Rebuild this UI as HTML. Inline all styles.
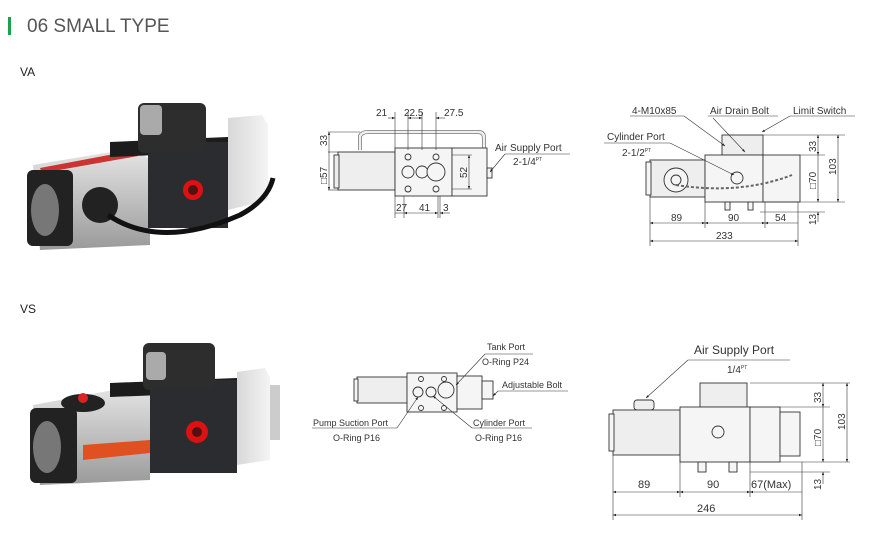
<!DOCTYPE html>
<html><head><meta charset="utf-8"><style>
html,body{margin:0;padding:0;background:#fff;}
svg{display:block;}
text{font-family:"Liberation Sans",sans-serif;fill:#333;}
</style></head><body>
<svg width="870" height="544" viewBox="0 0 870 544" xmlns="http://www.w3.org/2000/svg">
<defs>
<marker id="a" viewBox="0 0 10 10" refX="10" refY="5" markerWidth="5" markerHeight="5" orient="auto-start-reverse"><path d="M0,1 L10,5 L0,9 z" fill="#222"/></marker>
<linearGradient id="g1" x1="0" y1="0" x2="0" y2="1"><stop offset="0" stop-color="#e6e6e6"/><stop offset="1" stop-color="#9a9a9a"/></linearGradient>
<linearGradient id="g2" x1="0" y1="0" x2="1" y2="0"><stop offset="0" stop-color="#d8d8d8"/><stop offset="1" stop-color="#f4f4f4"/></linearGradient>
</defs>
<rect x="8" y="17" width="3" height="18" fill="#1aa34a"/>
<text x="27" y="32" font-size="19" style="fill:#555">06 SMALL TYPE</text>
<text x="20" y="76" font-size="12" style="fill:#222">VA</text>
<text x="20" y="313" font-size="12" style="fill:#222">VS</text>

<!-- Photo VA -->
<g>
<polygon points="33,165 135,148 150,160 150,245 40,250" fill="url(#g1)"/>
<polygon points="40,168 135,150 138,156 42,173" fill="#c33"/>
<polygon points="228,118 262,115 268,125 268,200 228,210" fill="url(#g2)"/>
<polygon points="110,142 228,137 228,152 110,157" fill="#1c1c1c"/>
<rect x="148" y="142" width="80" height="86" fill="#2a2c30"/>
<rect x="138" y="103" width="68" height="50" rx="6" fill="#2d2d2d"/>
<rect x="140" y="105" width="22" height="30" rx="4" fill="#aaa"/>
<circle cx="193" cy="190" r="10" fill="#d11"/><circle cx="193" cy="190" r="5" fill="#511"/>
<rect x="27" y="170" width="46" height="76" rx="6" fill="#222"/>
<ellipse cx="45" cy="210" rx="14" ry="26" fill="#777"/>
<circle cx="100" cy="205" r="18" fill="#222"/>
<path d="M108,215 Q160,250 240,215 Q268,200 273,178" stroke="#111" stroke-width="5" fill="none"/>
</g>

<!-- Photo VS -->
<g>
<polygon points="33,405 140,385 150,395 150,480 40,485" fill="url(#g1)"/>
<polygon points="83,445 150,440 150,453 83,460" fill="#e05020"/>
<polygon points="237,372 265,368 270,378 270,460 237,465" fill="url(#g2)"/>
<rect x="270" y="385" width="10" height="55" fill="#ccc"/>
<polygon points="110,383 237,378 237,392 110,397" fill="#1c1c1c"/>
<rect x="150" y="380" width="87" height="93" fill="#2a2c30"/>
<rect x="143" y="343" width="72" height="47" rx="6" fill="#2d2d2d"/>
<rect x="146" y="352" width="20" height="28" rx="4" fill="#aaa"/>
<circle cx="197" cy="432" r="11" fill="#d11"/><circle cx="197" cy="432" r="5" fill="#511"/>
<rect x="30" y="408" width="47" height="75" rx="6" fill="#222"/>
<ellipse cx="47" cy="447" rx="14" ry="26" fill="#777"/>
<ellipse cx="83" cy="403" rx="22" ry="9" fill="#222"/>
<circle cx="83" cy="398" r="5" fill="#d22"/>
</g>

<g stroke="#333" stroke-width="0.9" fill="#f5f5f5">
<!-- Drawing VA middle -->
<path d="M360,150 L360,136 Q362,132 368,132 L478,132 Q484,132 484,138 L484,150" fill="none" stroke-width="4" stroke="#777"/>
<path d="M360,150 L360,136 Q362,132 368,132 L478,132 Q484,132 484,138 L484,150" fill="none" stroke-width="2.5" stroke="#f0f0f0"/>
<rect x="338" y="152" width="57" height="38" fill="#eeeeee"/>
<rect x="334" y="155" width="5" height="33" fill="#eee"/>
<rect x="395" y="148" width="57" height="48"/>
<rect x="452" y="148" width="35" height="48"/>
<rect x="487" y="168" width="5" height="10"/>
<circle cx="408" cy="172" r="6"/><circle cx="422" cy="172" r="6"/><circle cx="436" cy="172" r="9"/>
<circle cx="408" cy="157" r="3"/><circle cx="436" cy="157" r="3"/><circle cx="408" cy="189" r="3"/><circle cx="436" cy="189" r="3"/>
<g fill="none" stroke-width="0.6">
<line x1="395" y1="112" x2="395" y2="148"/><line x1="408" y1="112" x2="408" y2="150"/><line x1="422" y1="112" x2="422" y2="150"/><line x1="436" y1="112" x2="436" y2="150"/>
<line x1="388" y1="118" x2="395" y2="118" marker-end="url(#a)"/><line x1="408" y1="118" x2="422" y2="118" marker-start="url(#a)" marker-end="url(#a)"/><line x1="436" y1="118" x2="445" y2="118" marker-start="url(#a)"/>
<line x1="395" y1="196" x2="395" y2="218"/><line x1="404" y1="196" x2="404" y2="218"/><line x1="438" y1="196" x2="438" y2="218"/><line x1="440" y1="196" x2="440" y2="218"/>
<line x1="395" y1="213" x2="404" y2="213"/><line x1="404" y1="213" x2="438" y2="213" marker-start="url(#a)" marker-end="url(#a)"/><line x1="440" y1="213" x2="450" y2="213" marker-start="url(#a)"/>
<line x1="328" y1="132" x2="360" y2="132"/><line x1="328" y1="152" x2="338" y2="152"/><line x1="328" y1="190" x2="338" y2="190"/>
<line x1="329" y1="132" x2="329" y2="190" marker-start="url(#a)" marker-end="url(#a)"/>
<line x1="452" y1="155" x2="472" y2="155"/><line x1="452" y1="189" x2="472" y2="189"/>
<line x1="469" y1="155" x2="469" y2="189" marker-start="url(#a)" marker-end="url(#a)"/>
<line x1="570" y1="154" x2="505" y2="154"/><line x1="505" y1="154" x2="490" y2="172" marker-end="url(#a)"/>
</g>
</g>
<g font-size="10">
<text x="376" y="116">21</text><text x="404" y="116">22.5</text><text x="444" y="116">27.5</text>
<text x="396" y="211">27</text><text x="419" y="211">41</text><text x="443" y="211">3</text>
<text transform="translate(327,146) rotate(-90)">33</text>
<text transform="translate(327,184) rotate(-90)">□57</text>
<text transform="translate(467,178) rotate(-90)">52</text>
<text x="495" y="151">Air Supply Port</text>
<text x="513" y="165">2-1/4<tspan font-size="5" dy="-4">PT</tspan></text>
</g>

<!-- Drawing VA right -->
<g stroke="#333" stroke-width="0.9" fill="#f5f5f5">
<rect x="722" y="135" width="41" height="20" fill="#eeeeee"/>
<rect x="650" y="160" width="55" height="37" fill="#eeeeee"/>
<rect x="646" y="162" width="5" height="33"/>
<rect x="705" y="155" width="58" height="47"/>
<rect x="763" y="155" width="37" height="47"/>
<rect x="725" y="202" width="5" height="8"/><rect x="748" y="202" width="5" height="8"/>
<circle cx="676" cy="180" r="12"/><circle cx="676" cy="180" r="5"/>
<circle cx="737" cy="178" r="6"/>
<path d="M676,185 Q740,195 792,175" fill="none" stroke="#666" stroke-width="2" stroke-dasharray="3,2"/>
<g fill="none" stroke-width="0.6">
<line x1="763" y1="135" x2="845" y2="135"/><line x1="800" y1="155" x2="825" y2="155"/><line x1="763" y1="202" x2="845" y2="202"/><line x1="760" y1="212" x2="825" y2="212"/>
<line x1="818" y1="135" x2="818" y2="155" marker-start="url(#a)" marker-end="url(#a)"/>
<line x1="818" y1="155" x2="818" y2="202" marker-end="url(#a)"/>
<line x1="818" y1="212" x2="818" y2="222" marker-start="url(#a)"/>
<line x1="838" y1="135" x2="838" y2="202" marker-start="url(#a)" marker-end="url(#a)"/>
<line x1="650" y1="197" x2="650" y2="246"/><line x1="705" y1="202" x2="705" y2="228"/><line x1="765" y1="202" x2="765" y2="228"/><line x1="798" y1="202" x2="798" y2="246"/>
<line x1="650" y1="223" x2="705" y2="223" marker-start="url(#a)" marker-end="url(#a)"/>
<line x1="705" y1="223" x2="765" y2="223" marker-start="url(#a)" marker-end="url(#a)"/>
<line x1="765" y1="223" x2="798" y2="223" marker-start="url(#a)"/>
<line x1="650" y1="241" x2="798" y2="241" marker-start="url(#a)" marker-end="url(#a)"/>
<line x1="630" y1="116" x2="684" y2="116"/><line x1="684" y1="116" x2="725" y2="146" marker-end="url(#a)"/>
<line x1="708" y1="116" x2="778" y2="116"/><line x1="713" y1="118" x2="745" y2="152" marker-end="url(#a)"/>
<line x1="790" y1="116" x2="855" y2="116"/><line x1="790" y1="116" x2="762" y2="132" marker-end="url(#a)"/>
<line x1="604" y1="143" x2="670" y2="143"/><line x1="670" y1="143" x2="734" y2="175" marker-end="url(#a)"/>
</g>
</g>
<g font-size="10">
<text x="632" y="114">4-M10x85</text><text x="710" y="114">Air Drain Bolt</text><text x="793" y="114">Limit Switch</text>
<text x="607" y="140">Cylinder Port</text><text x="622" y="156">2-1/2<tspan font-size="5" dy="-4">PT</tspan></text>
<text transform="translate(816,152) rotate(-90)">33</text>
<text transform="translate(816,189) rotate(-90)">□70</text>
<text transform="translate(836,175) rotate(-90)">103</text>
<text transform="translate(816,225) rotate(-90)">13</text>
<text x="671" y="221">89</text><text x="728" y="221">90</text><text x="775" y="221">54</text><text x="716" y="239">233</text>
</g>

<!-- Drawing VS middle -->
<g stroke="#333" stroke-width="0.9" fill="#f5f5f5">
<rect x="357" y="377" width="50" height="26" fill="#eeeeee"/>
<rect x="354" y="379" width="4" height="22"/>
<rect x="407" y="373" width="50" height="39"/>
<rect x="457" y="376" width="25" height="33"/>
<rect x="482" y="381" width="11" height="18"/>
<circle cx="418" cy="392" r="5"/><circle cx="431" cy="392" r="5"/><circle cx="446" cy="390" r="8"/>
<circle cx="421" cy="379" r="2.5"/><circle cx="444" cy="379" r="2.5"/><circle cx="421" cy="408" r="2.5"/><circle cx="444" cy="408" r="2.5"/>
<g fill="none" stroke-width="0.6">
<line x1="485" y1="354" x2="533" y2="354"/><line x1="485" y1="354" x2="456" y2="385" marker-end="url(#a)"/>
<line x1="498" y1="391" x2="568" y2="391"/><line x1="498" y1="391" x2="493" y2="396" marker-end="url(#a)"/>
<line x1="312" y1="428" x2="397" y2="428"/><line x1="397" y1="428" x2="418" y2="397" marker-end="url(#a)"/>
<line x1="472" y1="428" x2="532" y2="428"/><line x1="472" y1="428" x2="433" y2="396" marker-end="url(#a)"/>
</g>
</g>
<g font-size="9">
<text x="487" y="350">Tank Port</text><text x="482" y="365">O-Ring P24</text>
<text x="502" y="388">Adjustable Bolt</text>
<text x="313" y="426">Pump Suction Port</text><text x="333" y="441">O-Ring P16</text>
<text x="473" y="426">Cylinder Port</text><text x="475" y="441">O-Ring P16</text>
</g>

<!-- Drawing VS right -->
<g stroke="#333" stroke-width="0.9" fill="#f5f5f5">
<rect x="700" y="383" width="47" height="24" fill="#eeeeee"/>
<rect x="634" y="400" width="20" height="10" rx="3" fill="#eeeeee"/>
<rect x="613" y="410" width="67" height="45" fill="#eeeeee"/>
<rect x="609" y="414" width="5" height="37"/>
<rect x="680" y="407" width="70" height="55"/>
<rect x="750" y="407" width="30" height="55"/>
<rect x="780" y="412" width="20" height="44"/>
<rect x="698" y="462" width="8" height="10"/><rect x="729" y="462" width="8" height="10"/>
<circle cx="718" cy="432" r="6"/>
<g fill="none" stroke-width="0.6">
<line x1="750" y1="383" x2="850" y2="383"/><line x1="780" y1="407" x2="830" y2="407"/><line x1="780" y1="462" x2="850" y2="462"/><line x1="750" y1="472" x2="830" y2="472"/>
<line x1="823" y1="383" x2="823" y2="407" marker-start="url(#a)" marker-end="url(#a)"/>
<line x1="823" y1="407" x2="823" y2="462" marker-end="url(#a)"/>
<line x1="823" y1="472" x2="823" y2="484" marker-start="url(#a)"/>
<line x1="847" y1="383" x2="847" y2="462" marker-start="url(#a)" marker-end="url(#a)"/>
<line x1="613" y1="455" x2="613" y2="520"/><line x1="680" y1="462" x2="680" y2="497"/><line x1="750" y1="462" x2="750" y2="497"/><line x1="802" y1="462" x2="802" y2="520"/>
<line x1="613" y1="492" x2="680" y2="492" marker-start="url(#a)" marker-end="url(#a)"/>
<line x1="680" y1="492" x2="750" y2="492" marker-start="url(#a)" marker-end="url(#a)"/>
<line x1="750" y1="492" x2="802" y2="492" marker-start="url(#a)"/>
<line x1="613" y1="515" x2="802" y2="515" marker-start="url(#a)" marker-end="url(#a)"/>
<line x1="688" y1="360" x2="790" y2="360"/><line x1="688" y1="360" x2="646" y2="398" marker-end="url(#a)"/>
</g>
</g>
<g font-size="10">
<text x="694" y="354" font-size="12">Air Supply Port</text>
<text x="727" y="373">1/4<tspan font-size="5" dy="-4">PT</tspan></text>
<text transform="translate(821,403) rotate(-90)">33</text>
<text transform="translate(821,446) rotate(-90)">□70</text>
<text transform="translate(845,430) rotate(-90)">103</text>
<text transform="translate(821,490) rotate(-90)">13</text>
<text x="638" y="488" font-size="11">89</text><text x="707" y="488" font-size="11">90</text><text x="751" y="488" font-size="11">67(Max)</text>
<text x="697" y="512" font-size="11">246</text>
</g>
</svg>
</body></html>
